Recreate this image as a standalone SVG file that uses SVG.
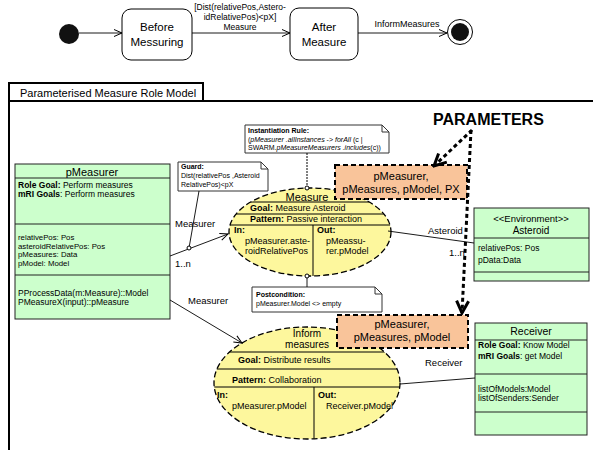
<svg xmlns="http://www.w3.org/2000/svg" width="593" height="450" viewBox="0 0 593 450">
<style>
text{font-family:"Liberation Sans",Arial,sans-serif;fill:#000}
.st{font-size:11.5px;text-anchor:middle}
.lbl{font-size:9px}
.tr{font-size:8.5px;text-anchor:middle}
.g{fill:#ccffcc;stroke:#222;stroke-width:1}
.gt{font-size:8.5px}
.ga{font-size:7.8px}
.gh{font-size:11px;text-anchor:middle}
.b{font-weight:bold}
.i{font-style:italic}
.ell{fill:#fdf79d;stroke:#000;stroke-width:1.3;stroke-dasharray:6,3}
.el{stroke:#000;stroke-width:1;fill:none}
.et{font-size:9px}
.org{fill:#f9c49a;stroke:#000;stroke-width:2;stroke-dasharray:5,3}
.ot{font-size:11px;text-anchor:middle}
.note{fill:#fff;stroke:#333;stroke-width:1}
.nt{font-size:7px}
.conn{stroke:#000;stroke-width:0.9;fill:none}
.par{stroke:#000;stroke-width:3;stroke-dasharray:4,3;fill:none}
.dot{fill:#fff;stroke:#000;stroke-width:1}
</style>
<defs>
<marker id="open" markerUnits="userSpaceOnUse" markerWidth="10" markerHeight="10" viewBox="0 0 10 10" refX="9" refY="5" orient="auto">
<path d="M1,1.5 L9,5 L1,8.5" fill="none" stroke="#000" stroke-width="1"/>
</marker>
<marker id="big" markerUnits="userSpaceOnUse" markerWidth="16" markerHeight="16" viewBox="0 0 16 16" refX="14" refY="8" orient="auto">
<path d="M2,2 L14,8 L2,14" fill="none" stroke="#000" stroke-width="3"/>
</marker>
<clipPath id="c1"><ellipse cx="310" cy="232" rx="81" ry="44"/></clipPath>
<clipPath id="c2"><ellipse cx="307" cy="383" rx="93" ry="56"/></clipPath>
</defs>

<!-- state machine -->
<g id="initial"><circle cx="69" cy="34" r="10" fill="#111"/></g>
<g id="before">
<rect x="122" y="9" width="70" height="51" rx="9" fill="#fff" stroke="#000" stroke-width="1"/>
<text class="st" x="157" y="31">Before</text>
<text class="st" x="157" y="46">Messuring</text>
</g>
<g id="after">
<rect x="290" y="8" width="68" height="52" rx="9" fill="#fff" stroke="#000" stroke-width="1"/>
<text class="st" x="324" y="31">After</text>
<text class="st" x="324" y="46">Measure</text>
</g>
<g id="final">
<circle cx="460" cy="32" r="12.5" fill="#fff" stroke="#000" stroke-width="1"/>
<circle cx="460" cy="32" r="9" fill="#111"/>
</g>

<!-- frame -->
<g id="frame">
<path d="M9,450 V101 H593" fill="none" stroke="#000" stroke-width="2"/>
<rect x="9" y="83" width="194" height="18" fill="#fff" stroke="#000" stroke-width="2"/>
<text x="20" y="97" font-size="11">Parameterised Measure Role Model</text>
</g>

<g id="parameters-label">
<text x="433" y="125" font-size="16" font-weight="bold">PARAMETERS</text>
</g>

<!-- pMeasurer -->
<g id="pMeasurer">
<rect class="g" x="15" y="164" width="155" height="155"/>
<line x1="15" y1="178" x2="170" y2="178" stroke="#222"/>
<line x1="15" y1="224" x2="170" y2="224" stroke="#222"/>
<line x1="15" y1="275" x2="170" y2="275" stroke="#222"/>
<text class="gh" x="92" y="176">pMeasurer</text>
<text class="gt" x="18" y="187.5"><tspan class="b">Role Goal:</tspan> Perform measures</text>
<text class="gt" x="18" y="197"><tspan class="b">mRI Goals</tspan>: Perform measures</text>
<text class="ga" x="18" y="240">relativePos: Pos</text>
<text class="ga" x="18" y="248.7">asteroidRelativePos: Pos</text>
<text class="ga" x="18" y="257.4">pMeasures: Data</text>
<text class="ga" x="18" y="266.1">pModel: Model</text>
<text class="gt" x="18" y="295.5">PProcessData(m:Measure)::Model</text>
<text class="gt" x="18" y="305">PMeasureX(input)::pMeasure</text>
</g>

<!-- Asteroid -->
<g id="asteroid">
<rect class="g" x="474" y="208" width="115" height="73"/>
<line x1="474" y1="238" x2="589" y2="238" stroke="#222"/>
<line x1="474" y1="272" x2="589" y2="272" stroke="#222"/>
<text x="531" y="222" font-size="9.5" text-anchor="middle">&lt;&lt;Environment&gt;&gt;</text>
<text x="531" y="233.5" font-size="10" text-anchor="middle">Asteroid</text>
<text class="gt" x="478" y="251">relativePos: Pos</text>
<text class="gt" x="478" y="263">pData:Data</text>
</g>

<!-- Receiver -->
<g id="receiver">
<rect class="g" x="475" y="323" width="112" height="112"/>
<line x1="475" y1="340" x2="587" y2="340" stroke="#222"/>
<line x1="475" y1="374" x2="587" y2="374" stroke="#222"/>
<line x1="475" y1="412" x2="587" y2="412" stroke="#222"/>
<text x="531" y="335" font-size="10.5" text-anchor="middle">Receiver</text>
<text class="gt" x="478" y="348"><tspan class="b">Role Goal:</tspan> Know Model</text>
<text class="gt" x="478" y="359"><tspan class="b">mRI Goals</tspan>: get Model</text>
<text class="gt" x="478" y="391.5">listOfModels:Model</text>
<text class="gt" x="478" y="401">listOfSenders:Sender</text>
</g>

<!-- Measure ellipse -->
<g id="measure">
<ellipse class="ell" cx="310" cy="232" rx="81" ry="44"/>
<g clip-path="url(#c1)">
<line class="el" x1="220" y1="202" x2="400" y2="202"/>
<line class="el" x1="220" y1="214" x2="400" y2="214"/>
<line class="el" x1="220" y1="225" x2="400" y2="225"/>
<line class="el" x1="313" y1="225" x2="313" y2="280"/>
</g>
<text x="307" y="200.5" font-size="11" text-anchor="middle">Measure</text>
<text class="et" x="250" y="211"><tspan class="b">Goal:</tspan> Measure Asteroid</text>
<text class="et" x="250" y="222"><tspan class="b">Pattern:</tspan> Passive interaction</text>
<text class="et b" x="234" y="233">In:</text>
<text class="et" x="245" y="244">pMeasurer.aste-</text>
<text class="et" x="245" y="254">roidRelativePos</text>
<text class="et b" x="317" y="233">Out:</text>
<text class="et" x="326" y="244">pMeassu-</text>
<text class="et" x="326" y="254">rer.pModel</text>
</g>

<!-- Inform ellipse -->
<g id="inform">
<ellipse class="ell" cx="307" cy="383" rx="93" ry="56"/>
<g clip-path="url(#c2)">
<line class="el" x1="200" y1="352" x2="410" y2="352"/>
<line class="el" x1="200" y1="369" x2="410" y2="369"/>
<line class="el" x1="200" y1="387" x2="410" y2="387"/>
<line class="el" x1="314" y1="387" x2="314" y2="445"/>
</g>
<text x="307" y="337" font-size="10" text-anchor="middle">Inform</text>
<text x="307" y="348" font-size="10" text-anchor="middle">measures</text>
<text class="et" x="238" y="363"><tspan class="b">Goal:</tspan> Distribute results</text>
<text class="et" x="232" y="382.5"><tspan class="b">Pattern:</tspan> Collaboration</text>
<text class="et b" x="217" y="398">In:</text>
<text class="et" x="232" y="409">pMeasurer.pModel</text>
<text class="et b" x="318" y="398">Out:</text>
<text class="et" x="326" y="409">Receiver.pModel</text>
</g>

<!-- parameter boxes -->
<g id="params1">
<rect class="org" x="335" y="165" width="132" height="34"/>
<text class="ot" x="401" y="180">pMeasurer,</text>
<text class="ot" x="401" y="193">pMeasures, pModel, PX</text>
</g>
<g id="params2">
<rect class="org" x="337" y="315" width="131" height="33"/>
<text class="ot" x="402" y="328">pMeasurer,</text>
<text class="ot" x="402" y="341">pMeasures, pModel</text>
</g>

<!-- notes -->
<g id="note-instantiation">
<path class="note" d="M245,125 H382 L389,132 V153 H245 Z"/>
<path d="M382,125 V132 H389" fill="none" stroke="#333" stroke-width="1"/>
<text class="nt b" x="248" y="133">Instantiation Rule:</text>
<text class="nt" x="248" y="142">(<tspan class="i">pMeasurer .allInstances</tspan> -&gt; <tspan class="i">forAll</tspan> (c |</text>
<text class="nt" x="248" y="150">SWARM.<tspan class="i">pMeasureMeasurers .includes</tspan>(c))</text>
</g>
<g id="note-guard">
<path class="note" d="M178,162 H261 L268,169 V191 H178 Z"/>
<path d="M261,162 V169 H268" fill="none" stroke="#333" stroke-width="1"/>
<text class="nt b" x="181" y="169">Guard:</text>
<text class="nt" x="181" y="178">Dist(relativePos ,Asteroid</text>
<text class="nt" x="181" y="187">RelativePos)&lt;pX</text>
</g>
<g id="note-postcondition">
<path class="note" d="M252,287 H375 L382,294 V312 H252 Z"/>
<path d="M375,287 V294 H382" fill="none" stroke="#333" stroke-width="1"/>
<text class="nt b" x="256" y="297">Postcondition:</text>
<text class="nt" x="256" y="306">pMeasurer.Model &lt;&gt; empty</text>
</g>

<!-- connectors -->
<g id="connectors">
<line class="conn" x1="79" y1="33" x2="122" y2="33" marker-end="url(#open)"/>
<line class="conn" x1="192" y1="33" x2="290" y2="33" marker-end="url(#open)"/>
<text class="tr" x="240" y="10">[Dist(relativePos,Astero-</text>
<text class="tr" x="240" y="20">idRelativePos)&lt;pX]</text>
<text class="tr" x="240" y="30">Measure</text>
<line class="conn" x1="358" y1="33" x2="447" y2="33" marker-end="url(#open)"/>
<text class="lbl" x="407" y="27" text-anchor="middle">InformMeasures</text>

<line class="conn" x1="170" y1="256" x2="228" y2="234" marker-end="url(#open)"/>
<text x="175" y="227" font-size="9.5">Measurer</text>
<text x="175" y="267" font-size="9.5">1..n</text>
<line class="conn" x1="199" y1="191" x2="189" y2="248"/>
<circle class="dot" cx="189" cy="248" r="2"/>

<line class="conn" x1="170" y1="300" x2="242" y2="343" marker-end="url(#open)"/>
<text x="188" y="304" font-size="9.5">Measurer</text>

<line class="conn" x1="388" y1="231" x2="474" y2="243"/>
<text x="428" y="234" font-size="9.5">Asteroid</text>
<text x="449" y="256" font-size="9.5">1..n</text>

<line class="conn" x1="400" y1="384" x2="475" y2="378"/>
<text x="425" y="366" font-size="9.5">Receiver</text>

<line x1="307" y1="153" x2="307" y2="186" stroke="#000" stroke-width="1" stroke-dasharray="2,1"/>
<circle class="dot" cx="307" cy="188" r="2"/>
<line class="conn" x1="307" y1="278" x2="307" y2="287"/>
<circle class="dot" cx="307" cy="276" r="2"/>

<line class="par" x1="472" y1="130" x2="434" y2="166" marker-end="url(#big)"/>
<line class="par" x1="471" y1="130" x2="462" y2="313" marker-end="url(#big)"/>
</g>
</svg>
